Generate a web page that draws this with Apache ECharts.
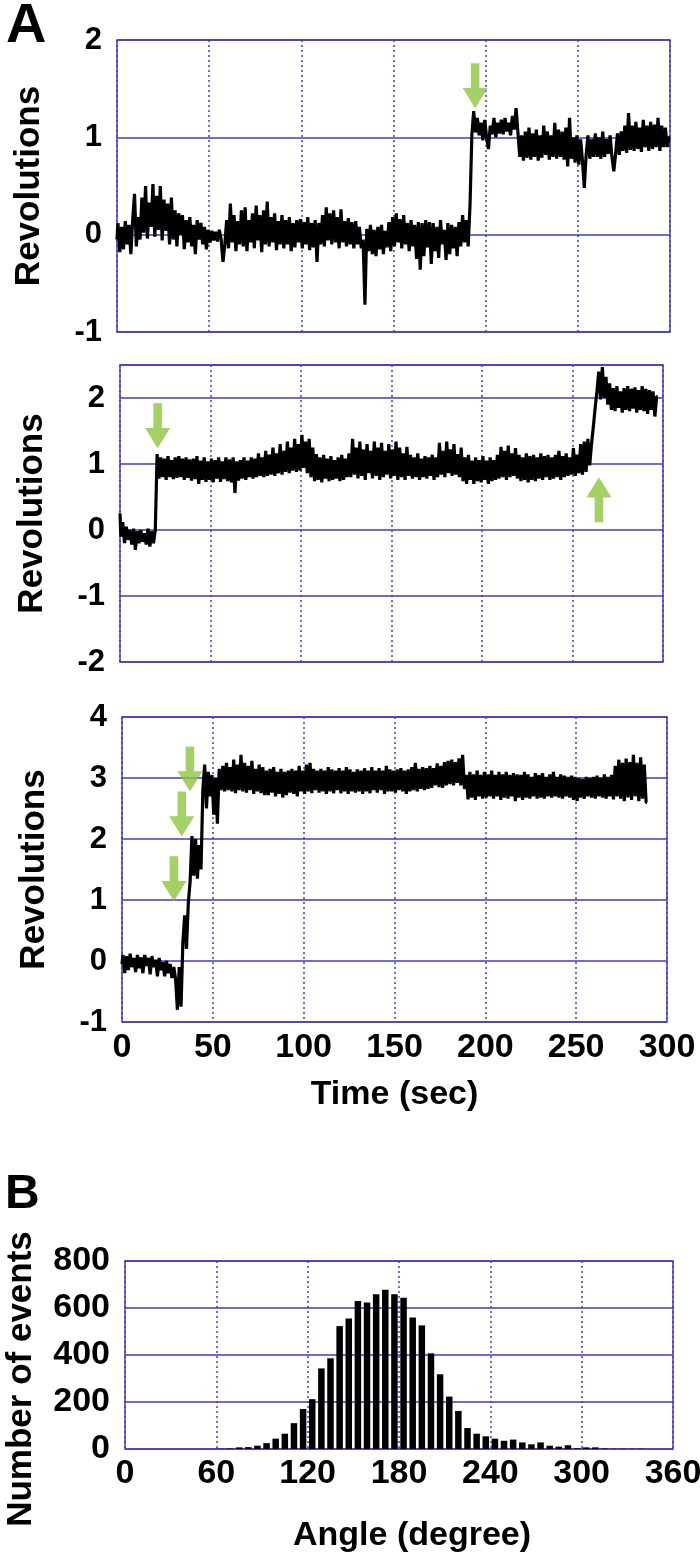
<!DOCTYPE html>
<html>
<head>
<meta charset="utf-8">
<script src="https://cdn.jsdelivr.net/npm/echarts@6/dist/echarts.min.js"></script>
<style>
html,body{margin:0;padding:0;background:#fff;}
#chart{width:700px;height:1557px;}
</style>
</head>
<body>
<div id="chart"></div>
<script>
// ---------- DATA ----------
// Trace 1 (revolutions, 1 s per sample, t = 0..300)
const trace1 = [
-0.05,0.12,-0.18,0.08,-0.15,0.14,-0.1,0.1,-0.2,0.15,
0.42,-0.12,0.18,-0.05,0.38,0.02,0.5,-0.04,0.33,0.08,
0.52,-0.02,0.4,0.05,0.5,-0.06,0.36,0.04,0.32,-0.1,
0.38,-0.05,0.25,-0.12,0.22,0.0,0.2,-0.15,0.15,-0.08,
0.18,-0.12,0.1,-0.2,0.15,-0.05,0.12,-0.1,0.08,-0.15,
0.05,-0.08,0.04,-0.06,0.03,-0.07,0.05,-0.05,-0.28,-0.1,
0.15,-0.14,0.32,-0.08,0.2,-0.17,0.14,-0.1,0.25,-0.12,
0.28,-0.17,0.15,-0.08,0.22,-0.14,0.3,-0.06,0.2,-0.18,
0.25,-0.1,0.34,-0.12,0.18,-0.08,0.22,-0.16,0.14,-0.1,
0.2,-0.14,0.15,-0.1,0.18,-0.17,0.12,-0.13,0.15,-0.08,
0.16,-0.14,0.13,-0.1,0.18,-0.16,0.12,-0.13,0.15,-0.28,
0.12,-0.1,0.2,-0.12,0.28,-0.06,0.22,-0.1,0.25,-0.08,
0.18,-0.14,0.26,-0.08,0.14,-0.12,0.17,-0.1,0.13,-0.14,
0.14,-0.1,0.08,-0.14,-0.05,-0.72,0.06,-0.17,0.1,-0.2,
0.05,-0.22,0.08,-0.15,0.1,-0.2,0.04,-0.13,0.13,-0.17,
0.18,-0.12,0.22,-0.08,0.16,-0.14,0.2,-0.1,0.12,-0.17,
0.15,-0.12,0.1,-0.25,0.13,-0.36,0.12,-0.22,0.15,-0.13,
0.13,-0.3,0.12,-0.17,0.08,-0.24,0.15,-0.1,0.05,-0.26,
0.12,-0.2,0.1,-0.14,0.08,-0.22,0.13,-0.12,0.2,-0.08,
0.15,-0.12,0.3,1.02,1.27,1.05,1.2,1.02,1.15,0.97,
1.18,1.0,0.88,1.12,1.03,1.2,1.0,1.15,1.04,1.18,
1.03,1.2,1.06,1.15,1.02,1.22,1.08,1.3,1.05,0.8,
1.02,0.76,1.06,0.79,1.1,0.77,1.04,0.8,1.08,0.76,
1.02,0.79,1.12,0.82,1.06,0.77,1.02,0.8,1.15,0.78,
1.08,0.8,1.06,0.77,1.1,0.7,1.2,0.78,1.0,0.74,
1.02,0.72,0.98,0.76,0.48,0.82,1.02,0.78,0.98,0.8,
1.04,0.8,1.0,0.78,1.06,0.8,0.98,0.83,1.02,0.8,
0.65,0.83,1.04,0.82,1.06,0.86,1.12,0.84,1.25,0.87,
1.12,0.86,1.16,0.88,1.1,0.85,1.18,0.9,1.12,0.86,
1.16,0.88,1.13,0.9,1.2,0.86,1.12,0.9,1.1,0.9,
1.0
];
// Trace 2 (t = 0..297)
const trace2 = [
0.25,-0.1,0.12,-0.2,0.05,-0.15,0.0,-0.22,0.02,-0.3,
-0.02,-0.2,0.0,-0.18,-0.05,-0.22,0.02,-0.25,-0.02,-0.2,
0.0,1.15,0.78,1.1,0.8,1.08,0.76,1.12,0.8,1.06,
0.77,1.1,0.79,1.12,0.8,1.08,0.76,1.1,0.79,1.07,
0.75,1.08,0.77,1.12,0.7,1.05,0.76,1.1,0.73,1.04,
0.76,1.08,0.72,1.06,0.78,1.1,0.73,1.04,0.77,1.1,
0.74,1.07,0.72,1.1,0.56,1.04,0.75,1.06,0.78,1.1,
0.76,1.05,0.8,1.1,0.78,1.08,0.8,1.16,0.82,1.1,
0.8,1.2,0.82,1.14,0.84,1.25,0.82,1.16,0.86,1.3,
0.84,1.2,0.88,1.34,0.86,1.25,0.9,1.38,0.88,1.3,
0.9,1.44,0.94,1.34,0.86,1.38,0.8,1.25,0.74,1.15,
0.76,1.1,0.72,1.14,0.78,1.08,0.74,1.12,0.76,1.06,
0.78,1.1,0.74,1.14,0.76,1.08,0.8,1.16,0.8,1.38,
0.84,1.25,0.78,1.34,0.82,1.22,0.76,1.3,0.86,1.2,
0.78,1.34,0.82,1.25,0.76,1.32,0.8,1.2,0.84,1.3,
0.78,1.22,0.82,1.34,0.76,1.25,0.8,1.16,0.76,1.26,
0.82,1.14,0.78,1.1,0.8,1.16,0.76,1.08,0.8,1.12,
0.78,1.1,0.82,1.14,0.76,1.1,0.8,1.32,0.84,1.2,
0.8,1.34,0.86,1.22,0.82,1.3,0.84,1.15,0.8,1.25,
0.74,1.1,0.7,1.14,0.76,1.05,0.7,1.1,0.74,1.06,
0.72,1.12,0.76,1.05,0.7,1.1,0.74,1.06,0.76,1.14,
0.78,1.26,0.8,1.2,0.76,1.28,0.8,1.16,0.82,1.24,
0.78,1.14,0.74,1.1,0.76,1.16,0.72,1.12,0.76,1.14,
0.74,1.1,0.78,1.16,0.76,1.12,0.8,1.14,0.76,1.1,
0.78,1.14,0.8,1.2,0.76,1.12,0.8,1.16,0.82,1.1,
0.84,1.24,0.82,1.14,0.86,1.3,0.84,1.34,0.88,1.38,
0.98,1.3,1.56,1.85,2.1,2.4,1.98,2.47,2.0,2.32,
1.9,2.22,1.82,2.15,1.8,2.18,1.85,2.1,1.78,2.15,
1.82,2.18,1.8,2.14,1.84,2.16,1.78,2.12,1.82,2.18,
1.8,2.14,1.76,2.12,1.82,2.1,1.72,2.02
];
// Trace 3 (t = 0..289)
const trace3 = [
-0.05,0.1,-0.2,0.08,-0.15,0.12,-0.1,0.05,-0.18,0.1,
-0.12,0.06,-0.2,0.1,-0.08,0.05,-0.22,0.08,-0.1,0.02,
-0.25,0.05,-0.15,-0.02,-0.25,0.0,-0.2,-0.05,-0.28,-0.1,
-0.3,-0.8,-0.1,-0.75,0.3,0.75,0.2,0.95,1.3,2.05,
1.4,2.0,1.35,1.9,1.5,2.8,3.22,2.5,3.1,2.7,
3.05,2.4,3.0,2.25,3.15,2.8,3.2,2.78,3.25,2.8,
3.18,2.78,3.3,2.75,3.22,2.8,3.38,2.78,3.25,2.76,
3.2,2.8,3.28,2.74,3.15,2.78,3.22,2.75,3.18,2.72,
3.12,2.72,3.15,2.76,3.18,2.7,3.1,2.74,3.15,2.68,
3.1,2.72,3.12,2.76,3.15,2.74,3.12,2.7,3.2,2.78,
3.12,2.74,3.22,2.78,3.25,2.75,3.15,2.8,3.12,2.76,
3.15,2.78,3.12,2.74,3.18,2.78,3.14,2.75,3.12,2.8,
3.16,2.75,3.12,2.78,3.18,2.74,3.14,2.78,3.1,2.76,
3.14,2.78,3.12,2.74,3.16,2.78,3.12,2.75,3.18,2.8,
3.12,2.76,3.16,2.8,3.12,2.74,3.2,2.78,3.14,2.78,
3.12,2.76,3.14,2.8,3.16,2.78,3.12,2.74,3.14,2.78,
3.18,2.8,3.25,2.78,3.15,2.82,3.18,2.8,3.16,2.82,
3.2,2.84,3.16,2.88,3.24,2.85,3.2,2.84,3.26,2.88,
3.28,2.9,3.3,2.88,3.26,2.92,3.32,2.88,3.38,2.82,
3.05,2.65,3.1,2.68,3.06,2.64,3.12,2.7,3.05,2.66,
3.1,2.68,3.06,2.7,3.12,2.66,3.05,2.7,3.1,2.64,
3.06,2.68,3.1,2.66,3.05,2.7,3.08,2.62,3.06,2.68,
3.05,2.64,3.1,2.68,3.06,2.66,3.02,2.7,3.08,2.66,
3.05,2.68,3.08,2.66,3.02,2.7,3.06,2.68,3.1,2.7,
3.02,2.68,3.06,2.66,3.04,2.7,3.02,2.68,3.04,2.64,
3.02,2.62,3.0,2.68,2.98,2.66,3.02,2.7,3.0,2.68,
3.02,2.66,3.04,2.7,3.0,2.68,3.06,2.66,3.02,2.7,
3.05,2.65,3.2,2.7,3.3,2.66,3.25,2.62,3.32,2.68,
3.26,2.64,3.38,2.7,3.25,2.62,3.34,2.66,3.22,2.6
];
// Arrows: [time, revolutions at arrow tip]
const arrowsDown1 = [[194.3, 1.3]];
const arrowsDown2 = [[20.8, 1.24]];
const arrowsUp2 = [[264.6, 0.8]];
const arrowsDown3 = [[37.4, 2.78], [32.9, 2.04], [28.6, 0.98]];
// Histogram (6-degree bins from 0 to 360)
const binWidthDeg = 6;
const eventCounts = [0,0,0,0,0,0,0,0,0,0,1,2,7,8,14,25,44,65,110,170,212,343,386,523,555,630,623,659,678,659,644,560,526,407,318,223,162,89,65,54,44,35,40,28,20,28,14,10,16,3,7,7,2,1,1,1,1,0,0,0];
const timeTicks = [0, 50, 100, 150, 200, 250, 300];
const angleTicks = [0, 60, 120, 180, 240, 300, 360];

// ---------- STYLE ----------
const BLUE = '#3d3dc4';
const GREEN = '#8cc63f';
const FONT = 'Liberation Sans, Arial, sans-serif';
const arrowDownPath = 'path://M33,0 L67,0 L67,55 L100,55 L50,100 L0,55 L33,55 Z';
const arrowUpPath = 'path://M50,0 L100,45 L67,45 L67,100 L33,100 L33,45 L0,45 Z';

const toPairs = arr => arr.map((v, i) => [i, v]);

function xTime(gi, showLabels) {
  return {
    type: 'value', gridIndex: gi, min: timeTicks[0], max: timeTicks[timeTicks.length - 1], interval: 50,
    axisLine: {show: false}, axisTick: {show: false},
    axisLabel: {show: showLabels, fontFamily: FONT, fontWeight: 'bold', fontSize: 34, color: '#000', margin: 9},
    splitLine: {show: true, lineStyle: {color: BLUE, width: 1.5, type: [2, 3]}},
    name: showLabels ? 'Time (sec)' : '', nameLocation: 'middle', nameGap: 56,
    nameTextStyle: {fontFamily: FONT, fontWeight: 'bold', fontSize: 34, color: '#000'}
  };
}
function yRev(gi, min, max) {
  return {
    type: 'value', gridIndex: gi, min: min, max: max, interval: 1,
    axisLine: {show: false}, axisTick: {show: false},
    axisLabel: {fontFamily: FONT, fontWeight: 'bold', fontSize: 31, color: '#000', margin: 15,
      showMaxLabel: Number.isInteger(max), padding: [0, 0, 16, 0]},
    splitLine: {show: true, lineStyle: {color: BLUE, width: 1.5}},
    name: 'Revolutions', nameLocation: 'middle', nameGap: 70,
    nameTextStyle: {fontFamily: FONT, fontWeight: 'bold', fontSize: 35, color: '#000'}
  };
}
function traceSeries(data, gi) {
  return {
    type: 'line', xAxisIndex: gi, yAxisIndex: gi, data: toPairs(data),
    step: 'middle', showSymbol: false, symbol: 'none',
    lineStyle: {color: '#000', width: 3.2}, z: 3
  };
}
function arrowSeries(data, gi, up) {
  return {
    type: 'scatter', xAxisIndex: gi, yAxisIndex: gi, data: data,
    symbol: up ? arrowUpPath : arrowDownPath, symbolSize: [25, 45],
    symbolOffset: [0, up ? '50%' : '-50%'],
    itemStyle: {color: GREEN}, z: 5
  };
}

const chart = echarts.init(document.getElementById('chart'), null, {renderer: 'canvas'});
const gridBase = {show: true, borderColor: BLUE, borderWidth: 1.5, backgroundColor: 'transparent',
  containLabel: false, outerBoundsMode: 'none'};
chart.setOption({
  animation: false,
  backgroundColor: '#fff',
  title: [
    {text: 'A', left: 1, top: -6, textStyle: {fontFamily: FONT, fontWeight: 'bold', fontSize: 56, color: '#000'}},
    {text: 'B', left: 0, top: 1166, textStyle: {fontFamily: FONT, fontWeight: 'bold', fontSize: 48, color: '#000'}}
  ],
  grid: [
    Object.assign({left: 117, top: 40, width: 553, height: 292}, gridBase),
    Object.assign({left: 120, top: 365, width: 543, height: 297}, gridBase),
    Object.assign({left: 122, top: 717, width: 545, height: 305}, gridBase),
    Object.assign({left: 125, top: 1261, width: 548, height: 188}, gridBase)
  ],
  xAxis: [
    xTime(0, false), xTime(1, false), xTime(2, true),
    {
      type: 'value', gridIndex: 3, min: angleTicks[0], max: angleTicks[angleTicks.length - 1], interval: 60,
      axisLine: {show: false}, axisTick: {show: false},
      axisLabel: {fontFamily: FONT, fontWeight: 'bold', fontSize: 34, color: '#000', margin: 8},
      splitLine: {show: true, lineStyle: {color: BLUE, width: 1.5, type: [2, 3]}},
      name: 'Angle (degree)', nameLocation: 'middle', nameGap: 70,
      nameTextStyle: {fontFamily: FONT, fontWeight: 'bold', fontSize: 34, color: '#000', padding: [0, 0, 0, 26]}
    }
  ],
  yAxis: [
    yRev(0, -1, 2), yRev(1, -2, 2.5), yRev(2, -1, 4),
    {
      type: 'value', gridIndex: 3, min: 0, max: 800, interval: 200,
      axisLine: {show: false}, axisTick: {show: false},
      axisLabel: {fontFamily: FONT, fontWeight: 'bold', fontSize: 34, color: '#000', margin: 15, padding: [0, 0, 18, 0]},
      splitLine: {show: true, lineStyle: {color: BLUE, width: 1.5}},
      name: 'Number of events', nameLocation: 'middle', nameGap: 86,
      nameTextStyle: {fontFamily: FONT, fontWeight: 'bold', fontSize: 35, color: '#000', padding: [0, 48, 0, 0]}
    }
  ],
  series: [
    traceSeries(trace1, 0),
    traceSeries(trace2, 1),
    traceSeries(trace3, 2),
    arrowSeries(arrowsDown1, 0, false),
    arrowSeries(arrowsDown2, 1, false),
    arrowSeries(arrowsUp2, 1, true),
    arrowSeries(arrowsDown3, 2, false),
    {
      type: 'bar', xAxisIndex: 3, yAxisIndex: 3,
      data: eventCounts.map((c, i) => [i * binWidthDeg + binWidthDeg / 2, c]),
      barWidth: 6.5, itemStyle: {color: '#000'}, z: 3
    }
  ]
});
</script>
</body>
</html>
